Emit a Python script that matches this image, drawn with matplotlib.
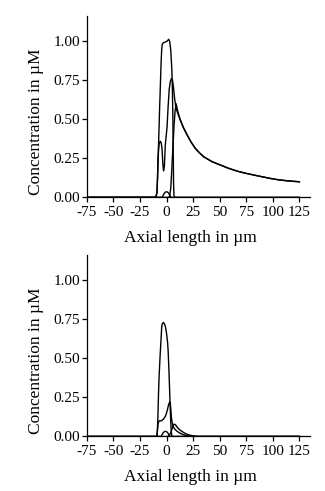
import matplotlib
matplotlib.use("Agg")
import matplotlib.pyplot as plt

plt.rcParams['font.family'] = ['Liberation Serif', 'DejaVu Serif']

# ---- values (x in um, y in uM) ----
xticks = [-75, -50, -25, 0, 25, 50, 75, 100, 125]
xticklabels = ['-75', '-50', '-25', '0', '25', '50', '75', '100', '125']
yticks = [0.0, 0.25, 0.5, 0.75, 1.0]
yticklabels = ['0.00', '0.25', '0.50', '0.75', '1.00']

# shared decaying tail of the top panel
tail_x = [13, 16, 19.4, 23, 27.2, 31, 35, 43, 50.8, 58, 66.5, 74, 82.2, 90,
          97.9, 105, 113.6, 119, 125]
tail_y = [0.495, 0.445, 0.40, 0.355, 0.313, 0.285, 0.26, 0.228, 0.207, 0.187,
          0.168, 0.155, 0.143, 0.132, 0.121, 0.113, 0.106, 0.103, 0.10]

# top panel
top_plateau_x = [-75, -10, -9, -8.5, -8, -7.5, -7, -6.5, -6, -5.5, -5, -4.5,
                 -4, -3, -1, 0.5, 2, 3, 4, 5, 5.5, 6, 6.3, 6.6, 7, 8, 125]
top_plateau_y = [0, 0, 0.03, 0.12, 0.25, 0.335, 0.45, 0.57, 0.67, 0.78, 0.88,
                 0.95, 0.98, 0.99, 0.995, 1.0, 1.012, 1.0, 0.94, 0.82, 0.7, 0.5,
                 0.3, 0.1, 0.01, 0, 0]

top_dip_x = [-75, -11, -10, -9, -8.5, -8, -7.5, -7, -6, -5, -4.2, -3.5, -2.8,
             -2, -1.2, 0.5, 1.5, 2.5, 3.5, 4.5, 5.5, 6.5, 7.5, 8.5, 9.5, 11]
top_dip_y = [0, 0, 0.005, 0.03, 0.11, 0.22, 0.3, 0.34, 0.36, 0.35, 0.31, 0.22,
             0.17, 0.2, 0.33, 0.45, 0.58, 0.69, 0.74, 0.76, 0.755, 0.71, 0.64,
             0.59, 0.56, 0.53]

top_late_x = [-75, 2, 3, 4, 5, 6, 7, 8, 9, 10, 11]
top_late_y = [0, 0, 0.01, 0.06, 0.18, 0.32, 0.45, 0.55, 0.6, 0.57, 0.54]

top_bump_x = [-75, -4, -3, -2, -1, 0, 1, 2, 3, 4, 125]
top_bump_y = [0, 0, 0.015, 0.027, 0.034, 0.036, 0.034, 0.027, 0.015, 0, 0]

# bottom panel
bot_peak_x = [-75, -10, -9, -8.5, -8, -7.5, -7, -6, -5, -4.5, -4, -3, -2, -1,
              0, 1, 1.5, 2, 2.5, 3, 3.5, 4, 4.5, 5, 6, 125]
bot_peak_y = [0, 0, 0.005, 0.05, 0.15, 0.28, 0.38, 0.52, 0.64, 0.70, 0.72,
              0.728, 0.72, 0.70, 0.66, 0.6, 0.55, 0.47, 0.38, 0.28, 0.18, 0.09,
              0.03, 0.005, 0, 0]

bot_mid_x = [-75, -10, -9, -8.5, -8, -7, -6, -5, -4, -3, -2, -1, 0, 1, 2, 3,
             3.5, 4, 4.5, 5, 6, 7, 8, 10, 12.5, 15, 18, 21, 25, 30, 125]
bot_mid_y = [0, 0, 0.005, 0.04, 0.08, 0.1, 0.1, 0.1, 0.105, 0.11, 0.12, 0.13,
             0.15, 0.175, 0.205, 0.22, 0.215, 0.18, 0.13, 0.1, 0.07, 0.055,
             0.045, 0.033, 0.022, 0.014, 0.007, 0.003, 0.001, 0, 0]

bot_late_x = [-75, 1, 2, 3, 4, 5, 6, 7, 8, 9, 10, 12, 15, 18, 21, 25, 28, 30,
              125]
bot_late_y = [0, 0, 0.003, 0.01, 0.025, 0.045, 0.065, 0.077, 0.078, 0.07, 0.06,
              0.045, 0.03, 0.018, 0.01, 0.004, 0.001, 0, 0]

bot_bump_x = [-75, -5, -4, -3, -2, -1, 0, 1, 2, 3, 125]
bot_bump_y = [0, 0, 0.014, 0.025, 0.031, 0.033, 0.031, 0.025, 0.014, 0, 0]


def style_axes(ax):
    ax.set_xlim(-75, 135)
    ax.set_ylim(0, 1.16)
    for side in ['top', 'right']:
        ax.spines[side].set_visible(False)
    for side in ['left', 'bottom']:
        ax.spines[side].set_linewidth(0.9)
    ax.set_xticks(xticks)
    ax.set_xticklabels(xticklabels)
    ax.set_yticks(yticks)
    ax.set_yticklabels(yticklabels)
    ax.tick_params(direction='out', length=3.5, width=0.9, labelsize=11)
    ax.tick_params(axis='x', pad=2.5)
    ax.tick_params(axis='y', pad=1.2)
    ax.set_xlabel('Axial length in µm', fontsize=12.5)
    ax.set_ylabel('Concentration in µM', fontsize=12.5)
    ax.xaxis.set_label_coords(0.464, -0.178)
    ax.yaxis.set_label_coords(-0.19, 0.415)


fig = plt.figure(figsize=(3.25, 4.91), dpi=100)
ax1 = fig.add_axes([0.267, 0.598, 0.687, 0.369])
ax2 = fig.add_axes([0.267, 0.111, 0.687, 0.370])

lw = 1.0
ax1.plot(top_plateau_x, top_plateau_y, color='black', lw=lw)
ax1.plot(top_dip_x + tail_x, top_dip_y + tail_y, color='black', lw=lw)
ax1.plot(top_late_x + tail_x, top_late_y + tail_y, color='black', lw=lw)
ax1.plot(top_bump_x, top_bump_y, color='black', lw=lw)

ax2.plot(bot_peak_x, bot_peak_y, color='black', lw=lw)
ax2.plot(bot_mid_x, bot_mid_y, color='black', lw=lw)
ax2.plot(bot_late_x, bot_late_y, color='black', lw=lw)
ax2.plot(bot_bump_x, bot_bump_y, color='black', lw=lw)

for ax in (ax1, ax2):
    style_axes(ax)

fig.savefig('out.png', dpi=100)
